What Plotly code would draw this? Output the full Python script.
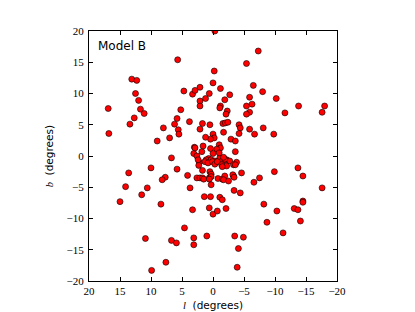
import plotly.graph_objects as go

# Galactic longitude l (degrees) and latitude b (degrees) of each source
l_deg = [5.7, 13.1, 12.3, 12.5, 12.0, 16.9, 11.7, 11.1, 12.7, 13.4, 16.8, 8.0, 7.0, 9.0, 6.2, 5.8,
         5.2, 5.6, 5.5, 4.7, 3.8, 3.3, 2.9, 2.1, 2.1, 2.1, 1.2, 0.6, 0.0, -0.2, 1.7, 2.1, 0.5, 3.0,
         3.1, 1.8,
         -7.3, -5.4, -1.2, -6.5, -8.0, -2.7, -1.9, -5.9, -10.2, -6.3, -5.4, -1.2, -1.1, -13.8, -18.0,
         -17.6, -11.6, -5.9, -5.4, -2.3, -2.1, -1.6, -2.0, -2.4, -4.2, -4.4, -5.9, -8.1, -9.8, -6.7,
         -4.2, -1.7, -2.9, -3.6, 0.0, -0.2, 0.4, 1.2, -3.6, -0.3,
         2.9, 1.6, 0.4, -1.0, -1.2, -0.6, 0.0, 2.2, -3.8, 0.7, 1.1, 0.3, -0.3, -1.1, -2.2, -1.5, -2.7,
         1.3, 0.8, 0.1, -0.3, -0.7, -1.4, -3.3,
         6.7, 2.6, 10.0, 5.8, 13.6, 7.7, 8.2, 4.1, 2.6, 2.1, 1.7, 1.5, 0.6, 2.3, 2.4, 1.7, 0.5, 0.3,
         0.3, 0.6, 0.3, 14.1, 10.6, 3.7, 11.5, 15.0, 8.4, 1.4, 0.4, 0.6, 3.3, 0.0, 4.6, 10.9, 3.1,
         6.7, 5.9, 3.1, 1.0, 7.6, 9.9,
         -0.8, -1.5, -1.9, -3.3,
         -3.6, -2.2, -1.5, -1.9, -1.7, -1.0, -4.6, -3.2, -3.4, -1.7, -2.5, -6.6, -7.5, -9.9, -13.7,
         -14.5, -17.6, -3.4, -4.4, -1.1, -1.5, -2.1, -0.7, -8.2, -10.3, -13.1, -13.7, -14.5, -14.5,
         -8.7, -14.1, -11.3, -3.5, -4.9, -4.1, -3.9]
b_deg = [15.4, 12.3, 12.1, 10.0, 8.9, 7.6, 7.5, 6.8, 6.1, 5.1, 3.6, 4.5, 2.9, 2.4, 5.1, 6.0,
         7.4, 4.2, 3.5, 10.4, 5.5, 9.9, 10.5, 11.0, 8.8, 8.0, 9.2, 10.0, 11.7, 13.6, 5.2, 4.3, 5.0, 1.4,
         0.4, 0.7,
         16.8, 14.8, 10.8, 11.3, 10.3, 9.8, 9.0, 9.4, 9.2, 8.3, 8.0, 8.0, 7.7, 8.0, 8.0,
         7.0, 6.9, 7.0, 6.7, 7.2, 6.7, 5.2, 5.3, 5.4, 5.0, 4.5, 4.3, 4.5, 3.5, 3.5,
         3.6, 3.8, 2.7, 2.4, 3.5, 2.9, 2.7, 3.0, 0.7, 20.0,
         1.3, 1.6, 1.2, 1.8, 1.3, 1.1, 0.4, -1.0, -1.0, -0.4, -0.6, -0.6, -0.8, -0.3, -0.6, -0.8, -0.8,
         -0.9, -1.1, -0.9, -1.3, -0.9, -1.4, -1.4,
         -0.3, 0.0, -1.9, -2.1, -2.7, -3.4, -3.8, -3.1, -3.5, -3.5, -3.5, -3.7, -3.5, -1.5, -0.6, -2.3, -2.5, -2.9,
         -3.3, -3.7, -4.6, -4.9, -5.1, -5.1, -6.2, -7.3, -7.7, -6.5, -6.5, -8.3, -8.6, -9.3, -11.5, -13.2, -13.1,
         -13.5, -13.9, -14.2, -12.8, -17.0, -18.3,
         -3.6, -3.7, -3.2, -3.2,
         -1.4, -1.6, -1.7, -0.5, -0.2, 0.5, -2.7, -3.0, -3.4, -3.8, -4.0, -4.2, -3.5, -2.5, -1.9,
         -3.2, -5.1, -5.5, -5.9, -6.6, -7.0, -8.4, -8.8, -7.7, -8.8, -8.4, -8.6, -7.2, -7.4,
         -10.6, -10.4, -12.3, -12.8, -13.0, -14.8, -17.8]

tick_vals = [-20, -15, -10, -5, 0, 5, 10, 15, 20]
tick_text = ["\u221220", "\u221215", "\u221210", "\u22125", "0", "5", "10", "15", "20"]

serif = "Liberation Serif, DejaVu Serif, serif"
sans = "DejaVu Sans, sans-serif"

fig = go.Figure()
fig.add_trace(go.Scatter(
    x=l_deg, y=b_deg, mode="markers",
    marker=dict(size=6, color="#ff0000", line=dict(color="#000000", width=0.6)),
    hoverinfo="skip", showlegend=False,
))

axis_common = dict(
    showgrid=False, zeroline=False, showline=True, linecolor="black", linewidth=1,
    mirror="allticks", ticks="inside", ticklen=4, tickwidth=1, tickcolor="black",
    tickvals=tick_vals, ticktext=tick_text,
    tickfont=dict(family=serif, size=11, color="black"),
)

fig.update_layout(
    width=407, height=304,
    margin=dict(l=81, r=78, t=23, b=31),
    paper_bgcolor="white", plot_bgcolor="white",
    xaxis=dict(range=[20, -20], ticklabelstandoff=0, **axis_common),
    yaxis=dict(range=[-20, 20], ticklabelstandoff=2, **axis_common),
    annotations=[
        dict(x=0.03, y=0.975, xref="paper", yref="paper", xanchor="left", yanchor="top",
             text="Model B", showarrow=False, font=dict(family=sans, size=12, color="black")),
        dict(x=0.5, y=-0.094, xref="paper", yref="paper", xanchor="center", yanchor="middle",
             text="<span style='font-family:Liberation Serif'><i>l</i></span>\u00a0\u00a0(degrees)",
             showarrow=False, font=dict(family=sans, size=10.5, color="black")),
        dict(x=-0.16, y=0.5, xref="paper", yref="paper", xanchor="center", yanchor="middle",
             textangle=-90,
             text="<span style='font-family:Liberation Serif'><i>b</i></span>\u00a0\u00a0(degrees)",
             showarrow=False, font=dict(family=sans, size=10.5, color="black")),
    ],
)

fig.write_html("out.html")
